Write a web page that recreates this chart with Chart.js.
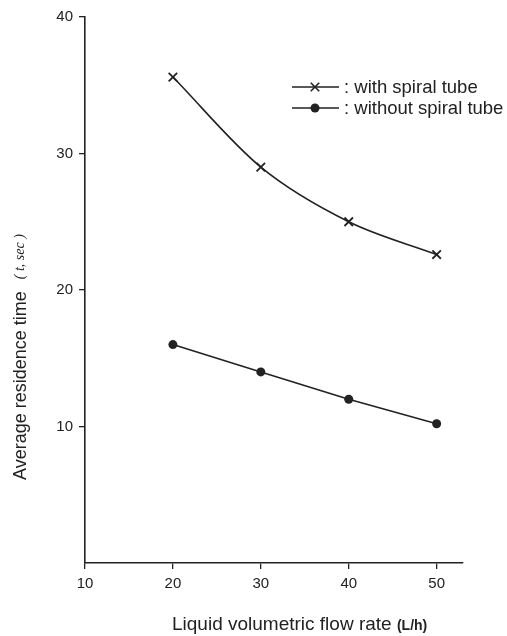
<!DOCTYPE html>
<html>
<head>
<meta charset="utf-8">
<script src="https://cdn.jsdelivr.net/npm/chart.js@4.4.1/dist/chart.umd.min.js"></script>
<style>
  html, body { margin: 0; padding: 0; background: #fff; }
  #wrap { width: 507px; height: 636px; position: relative; }
</style>
</head>
<body>
<div id="wrap"><canvas id="chart"></canvas></div>
<script>
// Flow rate (L/h)
const flowRates = [20, 30, 40, 50];
// Average residence time (sec)
const withSpiral = [35.6, 29.0, 25.0, 22.6];
const withoutSpiral = [16.0, 14.0, 12.0, 10.2];
const xTicks = [10, 20, 30, 40, 50];
const yTicks = [10, 20, 30, 40];

const ink = '#222';
const font = "'Liberation Sans', Arial, sans-serif";

// Legend + axis titles drawn by hand (mixed fonts like the original)
const extras = {
    id: 'extras',
    afterDraw(chart) {
        const ctx = chart.ctx;
        ctx.save();
        ctx.fillStyle = ink;
        ctx.strokeStyle = ink;

        // legend
        const rows = [
            { label: ': with spiral tube', ds: chart.data.datasets[0], y: 87 },
            { label: ': without spiral tube', ds: chart.data.datasets[1], y: 108 }
        ];
        rows.forEach(function(r) {
            ctx.lineWidth = 1.6;
            ctx.beginPath();
            ctx.moveTo(292, r.y);
            ctx.lineTo(339, r.y);
            ctx.stroke();
            Chart.helpers.drawPoint(ctx, {
                pointStyle: r.ds.pointStyle,
                radius: r.ds.pointRadius,
                borderWidth: r.ds.pointBorderWidth
            }, 315, r.y);
            ctx.fillStyle = ink;
            ctx.font = '18.5px ' + font;
            ctx.textBaseline = 'middle';
            ctx.textAlign = 'left';
            ctx.fillText(r.label, 344, r.y + 1);
        });

        // y title
        ctx.save();
        ctx.translate(26, 480);
        ctx.rotate(-Math.PI / 2);
        ctx.textBaseline = 'alphabetic';
        ctx.textAlign = 'left';
        ctx.font = '18px ' + font;
        const main = 'Average residence time';
        ctx.fillText(main, 0, 0);
        let w = ctx.measureText(main).width + 12;
        ctx.font = 'italic 14px "Liberation Serif", serif';
        ctx.fillText('( t, sec )', w, -2);
        ctx.restore();

        // x title
        ctx.textBaseline = 'alphabetic';
        ctx.textAlign = 'left';
        ctx.font = '19px ' + font;
        const xt = 'Liquid volumetric flow rate ';
        ctx.fillText(xt, 172, 630);
        const xw = ctx.measureText(xt).width;
        ctx.font = 'bold 14px ' + font;
        ctx.fillText('(L/h)', 172 + xw, 630);

        ctx.restore();
    }
};

new Chart(document.getElementById('chart'), {
    type: 'line',
    data: {
        datasets: [{
            label: 'with spiral tube',
            data: flowRates.map((x, i) => ({ x: x, y: withSpiral[i] })),
            borderColor: ink,
            backgroundColor: ink,
            borderWidth: 1.6,
            pointStyle: 'crossRot',
            pointRadius: 6,
            pointBorderWidth: 1.8,
            cubicInterpolationMode: 'monotone',
            tension: 0.4
        }, {
            label: 'without spiral tube',
            data: flowRates.map((x, i) => ({ x: x, y: withoutSpiral[i] })),
            borderColor: ink,
            backgroundColor: ink,
            borderWidth: 1.6,
            pointStyle: 'circle',
            pointRadius: 4.5,
            pointBorderWidth: 0,
            tension: 0
        }]
    },
    options: {
        responsive: true,
        maintainAspectRatio: false,
        animation: false,
        layout: { padding: { top: 17, right: 44, left: 0, bottom: 0 } },
        plugins: {
            legend: { display: false },
            tooltip: { enabled: false }
        },
        scales: {
            x: {
                type: 'linear',
                min: 10,
                max: 53,
                afterBuildTicks: function(scale) {
                    scale.ticks = xTicks.map(v => ({ value: v }));
                },
                afterFit: function(scale) { scale.height = 73; },
                border: { color: ink, width: 1.6 },
                grid: { display: true, drawOnChartArea: false, tickLength: 6, color: ink, lineWidth: 1.3 },
                ticks: {
                    color: ink,
                    padding: 6,
                    maxRotation: 0,
                    font: { family: font, size: 15 }
                }
            },
            y: {
                min: 0,
                max: 40,
                afterBuildTicks: function(scale) {
                    scale.ticks = yTicks.map(v => ({ value: v }));
                },
                afterFit: function(scale) { scale.width = 85; },
                border: { color: ink, width: 1.6 },
                grid: { display: true, drawOnChartArea: false, tickLength: 6, color: ink, lineWidth: 1.3 },
                ticks: {
                    color: ink,
                    padding: 6,
                    font: { family: font, size: 15 }
                }
            }
        }
    },
    plugins: [extras]
});
</script>
</body>
</html>
